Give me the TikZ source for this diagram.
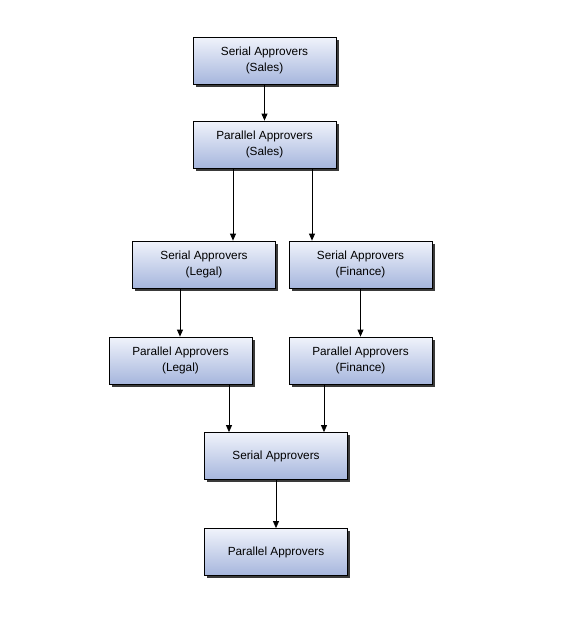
\documentclass[tikz,border=0pt]{standalone}
\usepackage{fontspec}
\setmainfont{Liberation Sans}
\usetikzlibrary{arrows.meta,shadows}
\definecolor{boxtop}{HTML}{F0F3FB}
\definecolor{boxbot}{HTML}{A6B6DD}
\definecolor{shad}{HTML}{3A3A3A}
\tikzset{
  apbox/.style={draw=black, line width=0.8pt, top color=boxtop, bottom color=boxbot,
    minimum width=143pt, minimum height=47pt, inner sep=0pt, align=center,
    font=\fontsize{11.8}{16}\selectfont,
    drop shadow={shadow xshift=2.5pt, shadow yshift=-2.5pt, fill=shad, opacity=1}},
  arr/.style={line width=0.8pt, -{Triangle[length=7pt,width=6pt]}}
}
\begin{document}
\begin{tikzpicture}[x=1pt,y=-1pt]
\useasboundingbox (0,0) rectangle (576,624);
\node[apbox] (b1) at (264.5,60.5) {Serial Approvers\\(Sales)};
\node[apbox] (b2) at (264.5,144.5) {Parallel Approvers\\(Sales)};
\node[apbox] (b3) at (204,264.5) {Serial Approvers\\(Legal)};
\node[apbox] (b4) at (360.5,264.5) {Serial Approvers\\(Finance)};
\node[apbox] (b5) at (180.5,360.5) {Parallel Approvers\\(Legal)};
\node[apbox] (b6) at (360.5,360.5) {Parallel Approvers\\(Finance)};
\node[apbox] (b7) at (276,456) {Serial Approvers};
\node[apbox] (b8) at (276,552) {Parallel Approvers};
\draw[arr] (b1.south) -- (b2.north);
\draw[arr] ([xshift=-31.5pt]b2.south) -- ([xshift=29pt]b3.north);
\draw[arr] ([xshift=47.5pt]b2.south) -- ([xshift=-48.5pt]b4.north);
\draw[arr] ([xshift=-24pt]b3.south) -- ([xshift=-0.5pt]b5.north);
\draw[arr] (b4.south) -- (b6.north);
\draw[arr] ([xshift=48.5pt]b5.south) -- ([xshift=-47pt]b7.north);
\draw[arr] ([xshift=-36.5pt]b6.south) -- ([xshift=48pt]b7.north);
\draw[arr] (b7.south) -- (b8.north);
\end{tikzpicture}
\end{document}
